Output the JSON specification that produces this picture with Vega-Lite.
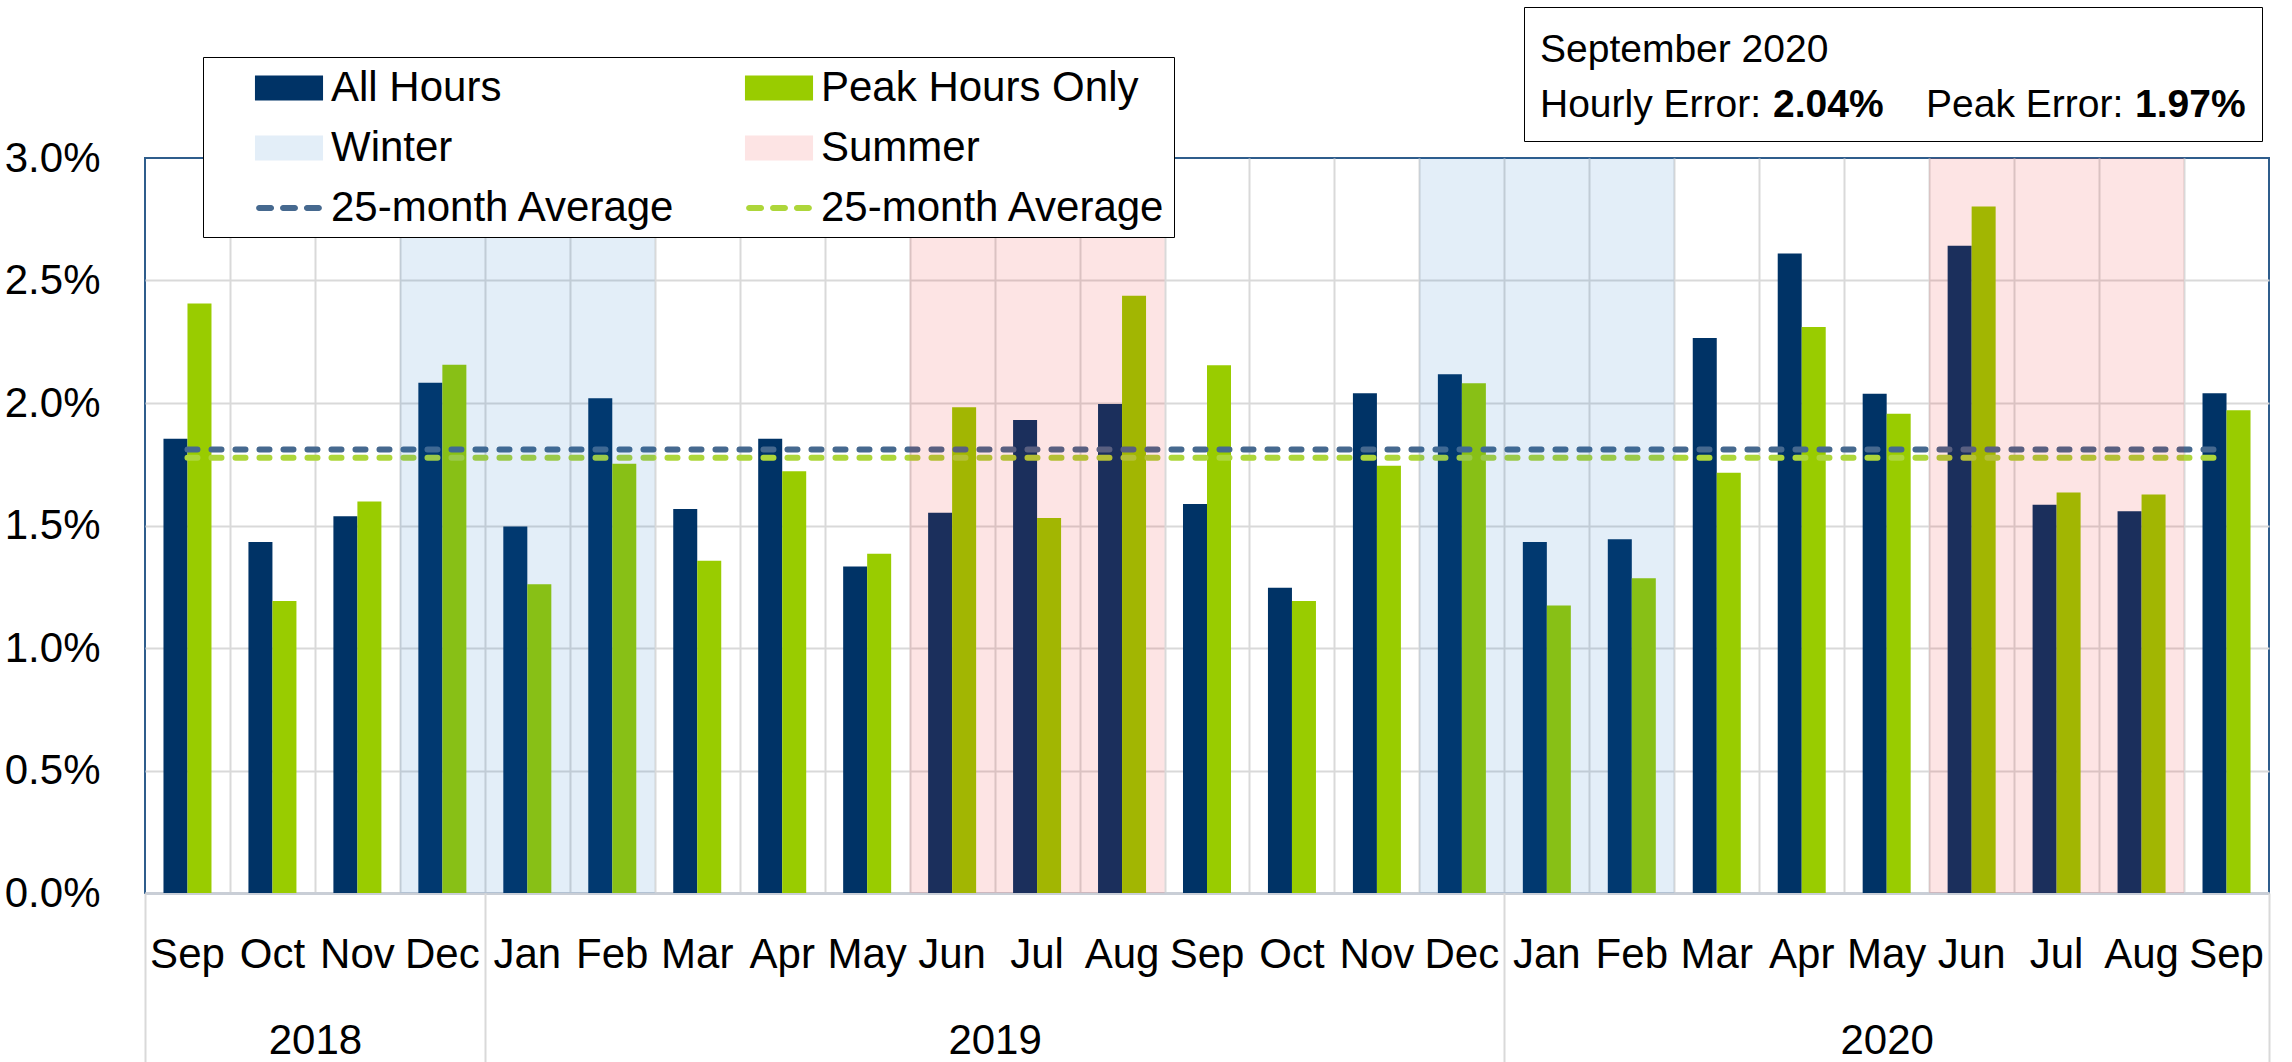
{
  "$schema": "https://vega.github.io/schema/vega-lite/v6.json",
  "width": 2124,
  "height": 735,
  "autosize": {"type": "none"},
  "padding": {"left": 145, "top": 158, "right": 23, "bottom": 169},
  "background": "white",
  "config": {
    "font": "Liberation Sans",
    "view": {"stroke": "#2F5D8C", "strokeWidth": 2},
    "axis": {"labelFont": "Liberation Sans", "labelFontSize": 42, "labelColor": "#000000"},
    "legend": {"labelFont": "Liberation Sans", "titleFont": "Liberation Sans"}
  },
  "datasets": {
    "errors": [
      {"m": "2018-09", "series": "All Hours", "value": 0.01854}, {"m": "2018-09", "series": "Peak Hours Only", "value": 0.02406},
      {"m": "2018-10", "series": "All Hours", "value": 0.01433}, {"m": "2018-10", "series": "Peak Hours Only", "value": 0.01192},
      {"m": "2018-11", "series": "All Hours", "value": 0.01538}, {"m": "2018-11", "series": "Peak Hours Only", "value": 0.01598},
      {"m": "2018-12", "series": "All Hours", "value": 0.02083}, {"m": "2018-12", "series": "Peak Hours Only", "value": 0.02156},
      {"m": "2019-01", "series": "All Hours", "value": 0.01496}, {"m": "2019-01", "series": "Peak Hours Only", "value": 0.01260},
      {"m": "2019-02", "series": "All Hours", "value": 0.02019}, {"m": "2019-02", "series": "Peak Hours Only", "value": 0.01752},
      {"m": "2019-03", "series": "All Hours", "value": 0.01567}, {"m": "2019-03", "series": "Peak Hours Only", "value": 0.01356},
      {"m": "2019-04", "series": "All Hours", "value": 0.01854}, {"m": "2019-04", "series": "Peak Hours Only", "value": 0.01721},
      {"m": "2019-05", "series": "All Hours", "value": 0.01333}, {"m": "2019-05", "series": "Peak Hours Only", "value": 0.01385},
      {"m": "2019-06", "series": "All Hours", "value": 0.01552}, {"m": "2019-06", "series": "Peak Hours Only", "value": 0.01983},
      {"m": "2019-07", "series": "All Hours", "value": 0.01931}, {"m": "2019-07", "series": "Peak Hours Only", "value": 0.01531},
      {"m": "2019-08", "series": "All Hours", "value": 0.01996}, {"m": "2019-08", "series": "Peak Hours Only", "value": 0.02438},
      {"m": "2019-09", "series": "All Hours", "value": 0.01588}, {"m": "2019-09", "series": "Peak Hours Only", "value": 0.02154},
      {"m": "2019-10", "series": "All Hours", "value": 0.01246}, {"m": "2019-10", "series": "Peak Hours Only", "value": 0.01192},
      {"m": "2019-11", "series": "All Hours", "value": 0.02040}, {"m": "2019-11", "series": "Peak Hours Only", "value": 0.01744},
      {"m": "2019-12", "series": "All Hours", "value": 0.02117}, {"m": "2019-12", "series": "Peak Hours Only", "value": 0.02081},
      {"m": "2020-01", "series": "All Hours", "value": 0.01433}, {"m": "2020-01", "series": "Peak Hours Only", "value": 0.01173},
      {"m": "2020-02", "series": "All Hours", "value": 0.01444}, {"m": "2020-02", "series": "Peak Hours Only", "value": 0.01285},
      {"m": "2020-03", "series": "All Hours", "value": 0.02265}, {"m": "2020-03", "series": "Peak Hours Only", "value": 0.01715},
      {"m": "2020-04", "series": "All Hours", "value": 0.02610}, {"m": "2020-04", "series": "Peak Hours Only", "value": 0.02310},
      {"m": "2020-05", "series": "All Hours", "value": 0.02038}, {"m": "2020-05", "series": "Peak Hours Only", "value": 0.01956},
      {"m": "2020-06", "series": "All Hours", "value": 0.02642}, {"m": "2020-06", "series": "Peak Hours Only", "value": 0.02802},
      {"m": "2020-07", "series": "All Hours", "value": 0.01585}, {"m": "2020-07", "series": "Peak Hours Only", "value": 0.01635},
      {"m": "2020-08", "series": "All Hours", "value": 0.01558}, {"m": "2020-08", "series": "Peak Hours Only", "value": 0.01627},
      {"m": "2020-09", "series": "All Hours", "value": 0.02040}, {"m": "2020-09", "series": "Peak Hours Only", "value": 0.01970}
    ],
    "averages": [
      {"series": "avgAll", "avg": 0.01810, "start": "2018-09", "end": "2020-09"},
      {"series": "avgPeak", "avg": 0.01777, "start": "2018-09", "end": "2020-09"}
    ],
    "months": [
      {"m": "2018-09", "i": 0, "season": "None"}, {"m": "2018-10", "i": 1, "season": "None"},
      {"m": "2018-11", "i": 2, "season": "None"}, {"m": "2018-12", "i": 3, "season": "Winter"},
      {"m": "2019-01", "i": 4, "season": "Winter"}, {"m": "2019-02", "i": 5, "season": "Winter"},
      {"m": "2019-03", "i": 6, "season": "None"}, {"m": "2019-04", "i": 7, "season": "None"},
      {"m": "2019-05", "i": 8, "season": "None"}, {"m": "2019-06", "i": 9, "season": "Summer"},
      {"m": "2019-07", "i": 10, "season": "Summer"}, {"m": "2019-08", "i": 11, "season": "Summer"},
      {"m": "2019-09", "i": 12, "season": "None"}, {"m": "2019-10", "i": 13, "season": "None"},
      {"m": "2019-11", "i": 14, "season": "None"}, {"m": "2019-12", "i": 15, "season": "Winter"},
      {"m": "2020-01", "i": 16, "season": "Winter"}, {"m": "2020-02", "i": 17, "season": "Winter"},
      {"m": "2020-03", "i": 18, "season": "None"}, {"m": "2020-04", "i": 19, "season": "None"},
      {"m": "2020-05", "i": 20, "season": "None"}, {"m": "2020-06", "i": 21, "season": "Summer"},
      {"m": "2020-07", "i": 22, "season": "Summer"}, {"m": "2020-08", "i": 23, "season": "Summer"},
      {"m": "2020-09", "i": 24, "season": "None"}
    ],
    "info": [
      {"info": "Hourly Error:"}, {"info": "2.04%"}, {"info": "Peak Error:"}, {"info": "1.97%"}
    ]
  },
  "resolve": {"scale": {"x": "independent"}, "axis": {"x": "independent"}},
  "layer": [
    {
      "layer": [
        {
          "data": {"name": "errors"},
          "mark": {"type": "bar"},
          "encoding": {
            "x": {
              "field": "m", "type": "nominal",
              "scale": {"paddingInner": 0.435, "paddingOuter": 0.2175},
              "axis": {
                "orient": "bottom", "title": null, "labelAngle": 0,
                "labelExpr": "['Jan','Feb','Mar','Apr','May','Jun','Jul','Aug','Sep','Oct','Nov','Dec'][toNumber(slice(datum.value, 5)) - 1]",
                "ticks": false, "grid": false, "domain": true, "domainColor": "#C9CED6", "domainWidth": 3,
                "labelPadding": 41, "labelOverlap": false
              }
            },
            "xOffset": {"field": "series", "type": "nominal", "scale": {"domain": ["All Hours", "Peak Hours Only"], "paddingInner": 0, "paddingOuter": 0}},
            "y": {
              "field": "value", "type": "quantitative",
              "scale": {"domain": [0, 0.03], "nice": false},
              "axis": {
                "title": null, "values": [0, 0.005, 0.01, 0.015, 0.02, 0.025, 0.03], "format": ".1%",
                "grid": true, "gridColor": "#D9D9D9", "gridWidth": 2,
                "gridOpacity": {"condition": {"test": "datum.value >= 0.0299", "value": 0}, "value": 1},
                "ticks": false, "domain": false, "labelPadding": 45
              }
            },
            "color": {
              "field": "series", "type": "nominal",
              "scale": {
                "domain": ["All Hours", "Peak Hours Only", "Winter", "Summer", "avgAll", "avgPeak"],
                "range": ["#003366", "#99CC00", "#E3EEF8", "#FDE4E4", "#46698F", "#ADD63A"]
              },
              "legend": {
                "orient": "none", "legendX": 58, "legendY": -101, "direction": "horizontal",
                "title": null, "columns": 2, "padding": 8,
                "strokeColor": "#000000", "fillColor": "#FFFFFF",
                "labelFontSize": 42, "labelColor": "#000000", "labelLimit": 1000,
                "symbolSize": 2116, "symbolOffset": 55, "labelOffset": 19,
                "columnPadding": 25, "rowPadding": 16,
                "labelExpr": "datum.value == 'avgAll' || datum.value == 'avgPeak' ? '25-month Average' : datum.value",
                "encode": {
                  "symbols": {"update": {
                    "shape": {"signal": "indexof(['avgAll','avgPeak'], datum.value) >= 0 ? 'M-1.30,-0.13H-0.78A0.13,0.13 0 0 1 -0.78,0.13H-1.30A0.13,0.13 0 0 1 -1.30,-0.13Z M-0.26,-0.13H0.26A0.13,0.13 0 0 1 0.26,0.13H-0.26A0.13,0.13 0 0 1 -0.26,-0.13Z M0.78,-0.13H1.30A0.13,0.13 0 0 1 1.30,0.13H0.78A0.13,0.13 0 0 1 0.78,-0.13Z' : 'M-1.48,-0.54H1.48V0.54H-1.48Z'"},
                    "fill": {"scale": "color", "field": "value"},
                    "fillOpacity": {"value": 1},
                    "opacity": {"value": 1},
                    "stroke": {"value": "transparent"},
                    "strokeWidth": {"value": 0},
                    "size": {"value": 2116}
                  }},
                  "legend": {"strokeWidth": {"value": 2.5}}
                }
              }
            }
          }
        },
        {
          "data": {"name": "averages"},
          "mark": {"type": "rule", "strokeWidth": 6, "strokeDash": [10, 14], "strokeCap": "round"},
          "encoding": {
            "x": {"field": "start", "type": "nominal"},
            "x2": {"field": "end"},
            "y": {"field": "avg", "type": "quantitative"},
            "color": {"field": "series", "type": "nominal"}
          }
        }
      ]
    },
    {
      "data": {"name": "months"},
      "mark": {"type": "rect", "fillOpacity": 0.115},
      "encoding": {
        "x": {"field": "m", "type": "nominal", "scale": {"paddingInner": 0, "paddingOuter": 0}, "axis": null},
        "fill": {
          "condition": [
            {"test": "datum.season === 'Winter'", "value": "#0C6BC2"},
            {"test": "datum.season === 'Summer'", "value": "#EE1414"}
          ],
          "value": "transparent"
        }
      }
    },
    {
      "data": {"name": "months"},
      "mark": {"type": "point", "opacity": 0},
      "encoding": {
        "x": {
          "field": "i", "type": "quantitative",
          "scale": {"domain": [0, 25], "nice": false, "zero": false},
          "axis": {
            "orient": "bottom", "title": null,
            "values": [0, 1, 2, 3, 4, 5, 6, 7, 8, 9, 10, 11, 12, 13, 14, 15, 16, 17, 18, 19, 20, 20.5, 21, 22, 23, 24, 25],
            "grid": true, "gridColor": "#D9D9D9", "gridWidth": 2,
            "gridOpacity": {"condition": {"test": "datum.value == 0 || datum.value == 25 || datum.value == 20.5", "value": 0}, "value": 1},
            "ticks": true, "tickSize": 170, "tickColor": "#D9D9D9", "tickWidth": 2,
            "tickOpacity": {"condition": {"test": "datum.value == 0 || datum.value == 4 || datum.value == 16 || datum.value == 25", "value": 1}, "value": 0},
            "domain": false,
            "labelExpr": "datum.value == 2 ? '2018' : datum.value == 10 ? '2019' : datum.value == 20.5 ? '2020' : ''",
            "labelPadding": -43, "labelFlush": false, "labelOverlap": false
          }
        }
      }
    },
    {
      "data": {"name": "info"},
      "mark": {"type": "point", "opacity": 0},
      "encoding": {
        "shape": {
          "field": "info", "type": "nominal",
          "scale": {"domain": ["Hourly Error:", "2.04%", "spacer", "Peak Error:", "1.97%"]},
          "legend": {
            "orient": "none", "legendX": 1379, "legendY": -151, "direction": "horizontal",
            "title": "September 2020", "titleFontSize": 39, "titleFontWeight": "normal", "titleColor": "#000000",
            "titleBaseline": "line-top", "titleLineHeight": 56,
            "titlePadding": 23, "titleLimit": 1000,
            "columns": 5, "padding": 16, "strokeColor": "#000000", "fillColor": "#FFFFFF",
            "labelFontSize": 39, "labelColor": "#000000", "labelLimit": 1000,
            "symbolSize": 0, "symbolOpacity": 0, "symbolStrokeWidth": 0, "labelOffset": -39, "columnPadding": 11,
            "labelExpr": "datum.value == 'spacer' ? 'r' : datum.value",
            "labelFontWeight": {"expr": "datum.value == '2.04%' || datum.value == '1.97%' ? 'bold' : 'normal'"},
            "labelOpacity": {"expr": "datum.value == 'spacer' ? 0 : 1"},
            "encode": {
              "legend": {"strokeWidth": {"value": 2.5}}
            }
          }
        }
      }
    }
  ]
}
